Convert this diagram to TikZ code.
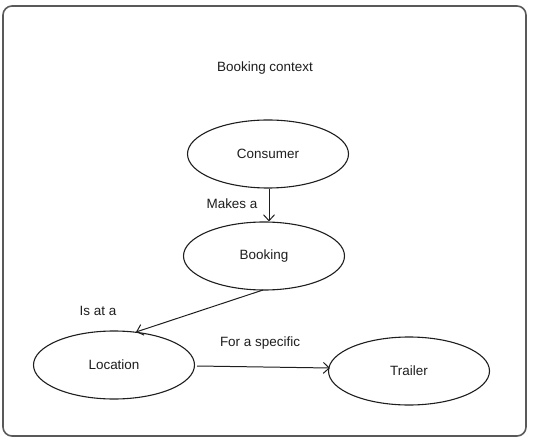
\documentclass[tikz,border=0pt]{standalone}
\usepackage{fontspec}
\setmainfont{Liberation Sans}
\usetikzlibrary{shapes.geometric,arrows.meta}
\definecolor{ink}{HTML}{1E1E1E}
\tikzset{
  entity/.style={ellipse, draw=ink, line width=1.1pt, minimum width=161bp, minimum height=68bp, inner sep=0pt, font=\fontsize{13.5}{15}\selectfont, text=ink},
  lbl/.style={font=\fontsize{13.5}{15}\selectfont, text=ink, inner sep=0pt},
  rel/.style={draw=ink, line width=1pt, -{Straight Barb[length=6pt,width=11pt,line width=1pt]}},
}
\begin{document}
\begin{tikzpicture}[x=1bp,y=-1bp]
\useasboundingbox (0,0) rectangle (533,441);
\fill[white] (0,0) rectangle (533,441);
\draw[draw=black!65, line width=1.6pt, rounded corners=9bp] (3,6) rectangle (526,436);
\node[lbl] (title) at (265,68) {Booking context};
\node[entity] (consumer) at (268,154) {Consumer};
\node[entity] (booking) at (264,256) {Booking};
\node[entity] (location) at (114,365) {Location};
\node[entity] (trailer) at (409,371) {Trailer};
\coordinate (c1) at (269,189);
\coordinate (c2) at (269,222);
\draw[rel] (consumer.south -| c1) -- (booking.north -| c2);
\node[lbl] (makes) at (232,204) {Makes a};
\coordinate (b1) at (263,290);
\coordinate (l1) at (136,332);
\draw[rel] (b1) -- (l1);
\node[lbl] (isat) at (98,311) {Is at a};
\coordinate (l2) at (197,366);
\coordinate (t2) at (330,368);
\draw[rel] (l2) -- (t2);
\node[lbl] (fora) at (260,343) {For a specific};
\end{tikzpicture}
\end{document}
